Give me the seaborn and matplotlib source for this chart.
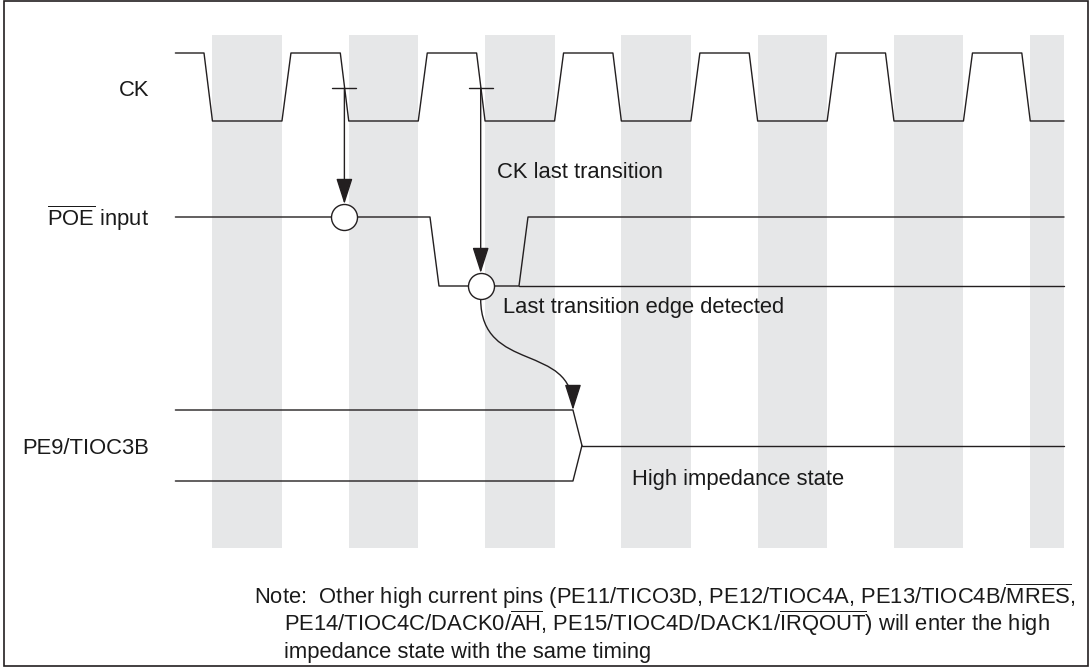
import matplotlib
matplotlib.use("Agg")
import matplotlib.pyplot as plt
import seaborn as sns
import pandas as pd
from matplotlib.patches import Rectangle, FancyArrowPatch
from matplotlib.path import Path

# time axis is in CK periods, t = 0 at the first falling edge of CK
ck_t = [-0.21, 0.0,
        0.062, 0.572, 0.638, 1.0,
        1.062, 1.572, 1.638, 2.0,
        2.062, 2.572, 2.638, 3.0,
        3.062, 3.572, 3.638, 4.0,
        4.062, 4.572, 4.638, 5.0,
        5.062, 5.572, 5.638, 6.0,
        6.062, 6.31]
ck_level = [1, 1,
            0, 0, 1, 1,
            0, 0, 1, 1,
            0, 0, 1, 1,
            0, 0, 1, 1,
            0, 0, 1, 1,
            0, 0, 1, 1,
            0, 0]

# shaded CK low phases
band_start = [0.062, 1.062, 2.062, 3.062, 4.062, 5.062, 6.062]
band_end = [0.572, 1.572, 2.572, 3.572, 4.572, 5.572, 6.31]

# POE input
poe_t = [-0.21, 1.658, 1.724, 2.311, 2.377, 6.31]
poe_level = [1, 1, 0, 0, 1, 1]
poe_low_t = [2.311, 6.31]

# sampling points (CK falling edges) on POE
detect_t = [1.03, 2.03]
detect_level = [1, 0]

# PE9/TIOC3B
pe9_t = [-0.21, 2.707, 2.773, 6.31]

labels = ["CK", r"$\mathregular{\overline{POE}}$ input", "PE9/TIOC3B"]
note_lines = [
    r"Note:  Other high current pins (PE11/TICO3D, PE12/TIOC4A, PE13/TIOC4B/$\mathregular{\overline{MRES}}$,",
    r"PE14/TIOC4C/DACK0/$\mathregular{\overline{AH}}$, PE15/TIOC4D/DACK1/$\mathregular{\overline{IRQOUT}}$) will enter the high",
    "impedance state with the same timing",
]

# ---- layout (pixel rows, figure is 1091 x 668) ----
W, H = 1091, 668
X0, PER = 204, 136.3
ck_hi, ck_lo = 53, 121
poe_hi, poe_lo = 217, 286
pe9_top, pe9_bot = 410, 481
pe9_mid = (pe9_top + pe9_bot) / 2
LC = "#231f20"
TC = "#1a1a1a"
LW = 1.0


def row(level, hi, lo):
    return [lo - l * (lo - hi) for l in level]


sns.set_theme(style="white")
plt.rcParams["font.family"] = ["Liberation Sans", "DejaVu Sans"]
plt.rcParams["mathtext.fontset"] = "custom"
plt.rcParams["mathtext.rm"] = "Liberation Sans"
plt.rcParams["mathtext.it"] = "Liberation Sans:italic"
plt.rcParams["mathtext.bf"] = "Liberation Sans:bold"
FS = 15.8

fig = plt.figure(figsize=(W / 100, H / 100), dpi=100)
ax = fig.add_axes([0, 0, 1, 1])
ax.set_xlim(-X0 / PER, (W - X0) / PER)
ax.set_ylim(H, 0)
ax.axis("off")

# gray bands
for s, e in zip(band_start, band_end):
    ax.axvspan(s, e, ymin=1 - 548 / H, ymax=1 - 35 / H, color="#e6e7e8", lw=0, zorder=0)

# CK
ck_df = pd.DataFrame({"t": ck_t, "y": row(ck_level, ck_hi, ck_lo)})
sns.lineplot(data=ck_df, x="t", y="y", sort=False, estimator=None, color=LC, lw=LW, ax=ax)

# POE
poe_df = pd.DataFrame({"t": poe_t, "y": row(poe_level, poe_hi, poe_lo)})
sns.lineplot(data=poe_df, x="t", y="y", sort=False, estimator=None, color=LC, lw=LW, ax=ax)
ax.plot(poe_low_t, [poe_lo, poe_lo], color=LC, lw=LW)

# PE9: driven (both rails) then high impedance
ax.plot(pe9_t[:3], [pe9_top, pe9_top, pe9_mid], color=LC, lw=LW)
ax.plot(pe9_t[:3], [pe9_bot, pe9_bot, pe9_mid], color=LC, lw=LW)
ax.plot(pe9_t[2:], [pe9_mid, pe9_mid], color=LC, lw=LW)

# detection circles and arrows from CK
R = 13
head = "-|>,head_length=1.0,head_width=0.32"
tick_y = (ck_hi + ck_lo) / 2 + 1
det_y = row(detect_level, poe_hi, poe_lo)
for t, y in zip(detect_t, det_y):
    ax.plot([t - 12 / PER, t + 12 / PER], [tick_y, tick_y], color=LC, lw=LW)
    ax.annotate("", xy=(t, y - R), xytext=(t, tick_y),
                arrowprops=dict(arrowstyle=head, mutation_scale=16, color=LC, lw=LW,
                                shrinkA=0, shrinkB=0))
ax.scatter(detect_t, det_y, s=(2 * R * 0.72) ** 2, facecolor="white",
           edgecolor=LC, linewidth=LW, zorder=5)

# curved arrow: detected edge -> PE9 goes high impedance
p0 = (detect_t[1], det_y[1] + R)
p3 = (pe9_t[1], pe9_top)
curve = Path([p0, (p0[0], p0[1] + 75), (p3[0], p3[1] - 68), p3],
             [Path.MOVETO, Path.CURVE4, Path.CURVE4, Path.CURVE4])
ax.add_patch(FancyArrowPatch(path=curve, arrowstyle=head, mutation_scale=16,
                             color=LC, lw=LW, shrinkA=0, shrinkB=0))

# labels (baselines)
lx = (149 - X0) / PER
for lab, y in zip(labels, [96, 226, 454]):
    ax.text(lx, y, lab, ha="right", va="baseline", fontsize=FS, color=TC)

ax.text((497 - X0) / PER, 172, "CK last transition", va="center", fontsize=FS, color=TC)
ax.text((503 - X0) / PER, 307, "Last transition edge detected", va="center", fontsize=FS, color=TC)
ax.text((632 - X0) / PER, 479, "High impedance state", va="center", fontsize=FS, color=TC)

# note
for i, line in enumerate(note_lines):
    x = 254 if i == 0 else 284
    ax.text((x - X0) / PER, 604 + 27 * i, line, va="baseline", fontsize=FS, color=TC)

# frame
ax.add_patch(Rectangle((4 / W, 2 / H), 1084 / W, 665 / H, transform=ax.transAxes,
                       fill=False, ec=LC, lw=1.2, clip_on=False))

fig.savefig("out.png", dpi=100)
